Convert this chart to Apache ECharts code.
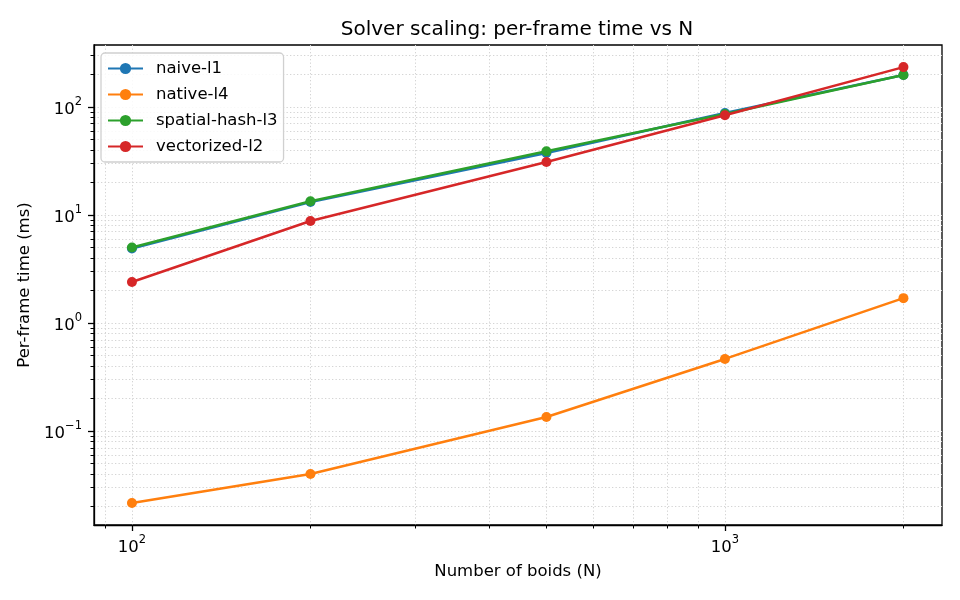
<!DOCTYPE html>
<html>
<head>
<meta charset="utf-8">
<script src="https://cdn.jsdelivr.net/npm/echarts@6/dist/echarts.min.js"></script>
<style>
  html, body { margin: 0; padding: 0; background: #fff; }
  #chart { width: 960px; height: 600px; }
</style>
</head>
<body>
<div id="chart"></div>
<script>
// boid counts
const boids = [100, 200, 500, 1000, 2000];
// per-frame time (ms) for each solver
const naiveL1 = [4.9, 13.2, 37.5, 88, 198];
const nativeL4 = [0.0216, 0.040, 0.135, 0.465, 1.70];
const spatialHashL3 = [5.0, 13.4, 39, 86, 198];
const vectorizedL2 = [2.4, 8.8, 31, 84, 234];

const seriesNames = ['naive-l1', 'native-l4', 'spatial-hash-l3', 'vectorized-l2'];
const seriesValues = [naiveL1, nativeL4, spatialHashL3, vectorizedL2];
const colors = ['#1f77b4', '#ff7f0e', '#2ca02c', '#d62728'];

// tick values
const xMajor = [100, 1000];
const xMinor = [90, 200, 300, 400, 500, 600, 700, 800, 900, 2000];
const yMajor = [0.1, 1, 10, 100];
const yMinor = [0.02, 0.03, 0.04, 0.05, 0.06, 0.07, 0.08, 0.09,
                0.2, 0.3, 0.4, 0.5, 0.6, 0.7, 0.8, 0.9,
                2, 3, 4, 5, 6, 7, 8, 9,
                20, 30, 40, 50, 60, 70, 80, 90,
                200, 300];

const xRange = [86.3, 2323];
const yRange = [0.01349, 375];

const font = 'DejaVu Sans';
const gridLine = { show: true, lineStyle: { color: '#d4d4d4', type: [1.3, 2.2], width: 1 } };

function powLabel(v) {
      const e = Math.round(Math.log10(v));
      const exp = e < 0 ? '\u2212' + (-e) : String(e);
      return '{b|10}{s|' + exp + '}';
}
const richPow = {
      b: { fontFamily: font, fontSize: 16.5, color: '#000', lineHeight: 22, verticalAlign: 'bottom' },
      s: { fontFamily: font, fontSize: 11.5, color: '#000', lineHeight: 22, verticalAlign: 'top' }
};

const chart = echarts.init(document.getElementById('chart'));

chart.setOption({
      animation: false,
      title: {
            text: 'Solver scaling: per-frame time vs N',
            left: 512,
            textAlign: 'center',
            top: 15,
            textStyle: { fontFamily: font, fontSize: 20, fontWeight: 'normal', color: '#000' }
      },
      legend: {
            left: 101,
            top: 53,
            orient: 'vertical',
            data: seriesNames,
            itemWidth: 35,
            itemHeight: 14,
            itemGap: 9,
            padding: [7, 6, 7, 6],
            borderColor: '#d0d0d0',
            borderWidth: 1.3,
            borderRadius: 4,
            backgroundColor: 'rgba(255,255,255,0.85)',
            textStyle: { fontFamily: font, fontSize: 16.5, color: '#000', padding: [0, 0, 0, 8] }
      },
      grid: {
            left: 94,
            right: 18,
            top: 45,
            bottom: 75,
            show: true,
            borderColor: '#000',
            borderWidth: 1.3,
            containLabel: false
      },
      xAxis: [
            {
                  type: 'log',
                  min: xRange[0],
                  max: xRange[1],
                  name: 'Number of boids (N)',
                  nameLocation: 'middle',
                  nameGap: 38,
                  nameTextStyle: { fontFamily: font, fontSize: 16.5, color: '#000' },
                  axisLine: { show: true, lineStyle: { color: '#000', width: 1.3 } },
                  axisTick: { show: true, length: 6, customValues: xMajor, lineStyle: { color: '#000', width: 1.3 } },
                  axisLabel: { customValues: xMajor, margin: 9, formatter: powLabel, rich: richPow },
                  splitLine: gridLine
            },
            {
                  type: 'log',
                  min: xRange[0],
                  max: xRange[1],
                  position: 'bottom',
                  axisLine: { show: false },
                  axisTick: { show: true, length: 3.5, customValues: xMinor, lineStyle: { color: '#000', width: 1 } },
                  axisLabel: { show: false },
                  splitLine: gridLine
            }
      ],
      yAxis: [
            {
                  type: 'log',
                  min: yRange[0],
                  max: yRange[1],
                  name: 'Per-frame time (ms)',
                  nameLocation: 'middle',
                  nameGap: 60,
                  nameTextStyle: { fontFamily: font, fontSize: 16.5, color: '#000' },
                  axisLine: { show: true, lineStyle: { color: '#000', width: 1.3 } },
                  axisTick: { show: true, length: 6, customValues: yMajor, lineStyle: { color: '#000', width: 1.3 } },
                  axisLabel: { customValues: yMajor, margin: 12, formatter: powLabel, rich: richPow },
                  splitLine: gridLine
            },
            {
                  type: 'log',
                  min: yRange[0],
                  max: yRange[1],
                  position: 'left',
                  axisLine: { show: false },
                  axisTick: { show: true, length: 3.5, customValues: yMinor, lineStyle: { color: '#000', width: 1 } },
                  axisLabel: { show: false },
                  splitLine: gridLine
            }
      ],
      series: seriesNames.map(function(name, i) {
            return {
                  name: name,
                  type: 'line',
                  xAxisIndex: 0,
                  yAxisIndex: 0,
                  data: boids.map(function(n, j) { return [n, seriesValues[i][j]]; }),
                  symbol: 'circle',
                  symbolSize: 10,
                  color: colors[i],
                  lineStyle: { width: 2.5, color: colors[i] },
                  itemStyle: { color: colors[i] },
                  z: 3 + i
            };
      })
});
</script>
</body>
</html>
